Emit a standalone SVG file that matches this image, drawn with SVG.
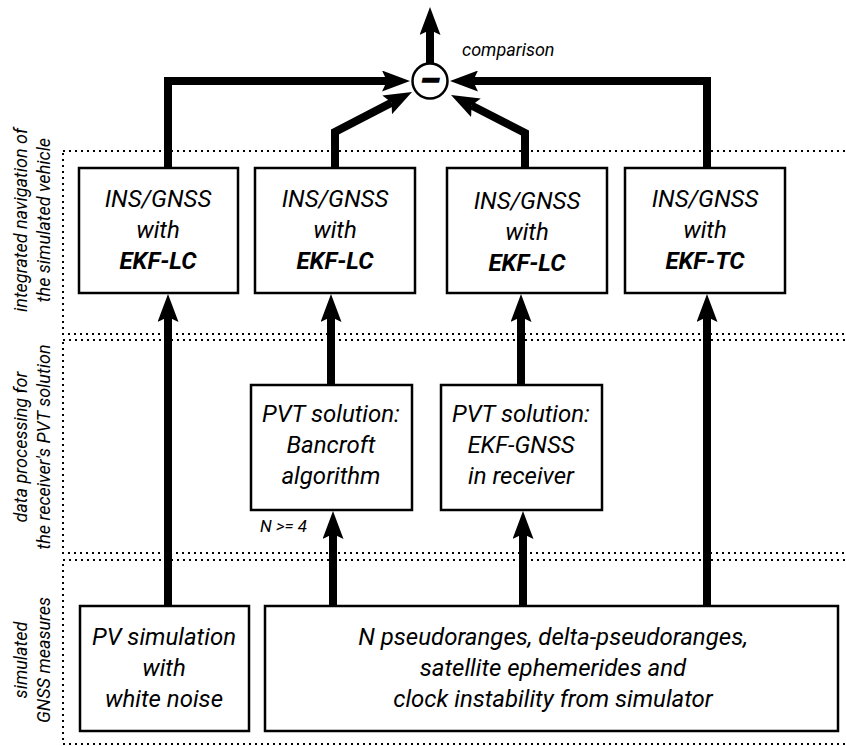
<svg xmlns="http://www.w3.org/2000/svg" width="846" height="746" viewBox="0 0 846 746">
<style>
  text { font-family: Roboto, "Liberation Sans", sans-serif; font-style: italic; fill: #000; }
  .bt { font-size: 24px; text-anchor: middle; }
  .b { font-weight: bold; }
  .lbl { font-size: 18px; text-anchor: middle; }
  .box { fill: #fff; stroke: #000; stroke-width: 2.5; }
  .zone { fill: none; stroke: #000; stroke-width: 2; stroke-dasharray: 2 4; }
  .conn { fill: none; stroke: #000; stroke-width: 8; stroke-linejoin: miter; marker-end: url(#ah); }
</style>
<defs>
  <marker id="ah" markerUnits="userSpaceOnUse" markerWidth="28" markerHeight="21" refX="5" refY="10.5" orient="auto" viewBox="0 0 28 21">
    <path d="M0,0 L28,10.5 L0,21 L5,10.5 z" fill="#000"/>
  </marker>
</defs>
<rect width="846" height="746" fill="#fff"/>

<g id="zones">
  <rect class="zone" x="63" y="151" width="800" height="183"/>
  <rect class="zone" x="63" y="340" width="800" height="213"/>
  <rect class="zone" x="63" y="560" width="800" height="184"/>
</g>

<g id="zone-labels">
  <text class="lbl" transform="translate(27,220) rotate(-90)">integrated navigation of</text>
  <text class="lbl" transform="translate(50,220) rotate(-90)">the simulated vehicle</text>
  <text class="lbl" transform="translate(27,447) rotate(-90)">data processing for</text>
  <text class="lbl" transform="translate(50,447) rotate(-90)">the receiver's PVT solution</text>
  <text class="lbl" transform="translate(27,660) rotate(-90)">simulated</text>
  <text class="lbl" transform="translate(50,660) rotate(-90)">GNSS measures</text>
</g>

<g id="connectors">
  <path class="conn" d="M430,63 V30"/>
  <path class="conn" d="M168,168 V81 H387"/>
  <path class="conn" d="M707,168 V81 H473"/>
  <path class="conn" d="M335,168 V132 L391.6,102.6"/>
  <path class="conn" d="M525,168 V133 L471.5,105.5"/>
  <path class="conn" d="M168,606 V317"/>
  <path class="conn" d="M333,606 V534"/>
  <path class="conn" d="M523,606 V534"/>
  <path class="conn" d="M707,606 V317"/>
  <path class="conn" d="M331,385 V317"/>
  <path class="conn" d="M521,385 V317"/>
</g>

<g id="comparison">
  <circle cx="430" cy="81" r="17.5" fill="#fff" stroke="#000" stroke-width="2.5"/>
  <text x="430" y="91" font-size="32" font-weight="bold" text-anchor="middle" stroke="#000" stroke-width="1.5">–</text>
  <text x="462" y="56" font-size="18">comparison</text>
</g>

<g id="ekf-lc-1">
  <rect class="box" x="79" y="168" width="159" height="125"/>
  <text class="bt" x="158" y="207">INS/GNSS</text>
  <text class="bt" x="158" y="238">with</text>
  <text class="bt b" x="158" y="269">EKF-LC</text>
</g>
<g id="ekf-lc-2">
  <rect class="box" x="255" y="168" width="160" height="125"/>
  <text class="bt" x="335" y="207">INS/GNSS</text>
  <text class="bt" x="335" y="238">with</text>
  <text class="bt b" x="335" y="269">EKF-LC</text>
</g>
<g id="ekf-lc-3">
  <rect class="box" x="447" y="168" width="160" height="125"/>
  <text class="bt" x="527" y="209">INS/GNSS</text>
  <text class="bt" x="527" y="240">with</text>
  <text class="bt b" x="527" y="271">EKF-LC</text>
</g>
<g id="ekf-tc">
  <rect class="box" x="625" y="168" width="160" height="125"/>
  <text class="bt" x="705" y="207">INS/GNSS</text>
  <text class="bt" x="705" y="238">with</text>
  <text class="bt b" x="705" y="269">EKF-TC</text>
</g>

<g id="bancroft">
  <rect class="box" x="251" y="385" width="161" height="125"/>
  <text class="bt" x="331" y="422">PVT solution:</text>
  <text class="bt" x="331" y="453">Bancroft</text>
  <text class="bt" x="331" y="484">algorithm</text>
  <text x="260" y="532" font-size="17">N &gt;= 4</text>
</g>
<g id="ekf-gnss">
  <rect class="box" x="441" y="385" width="161" height="125"/>
  <text class="bt" x="521" y="422">PVT solution:</text>
  <text class="bt" x="521" y="453">EKF-GNSS</text>
  <text class="bt" x="521" y="484">in receiver</text>
</g>

<g id="pv-sim">
  <rect class="box" x="80" y="606" width="169" height="125"/>
  <text class="bt" x="164" y="645">PV simulation</text>
  <text class="bt" x="164" y="676">with</text>
  <text class="bt" x="164" y="707">white noise</text>
</g>
<g id="simulator">
  <rect class="box" x="265" y="606" width="573" height="125"/>
  <text class="bt" x="553" y="645">N pseudoranges, delta-pseudoranges,</text>
  <text class="bt" x="553" y="676">satellite ephemerides and</text>
  <text class="bt" x="553" y="707">clock instability from simulator</text>
</g>
</svg>
